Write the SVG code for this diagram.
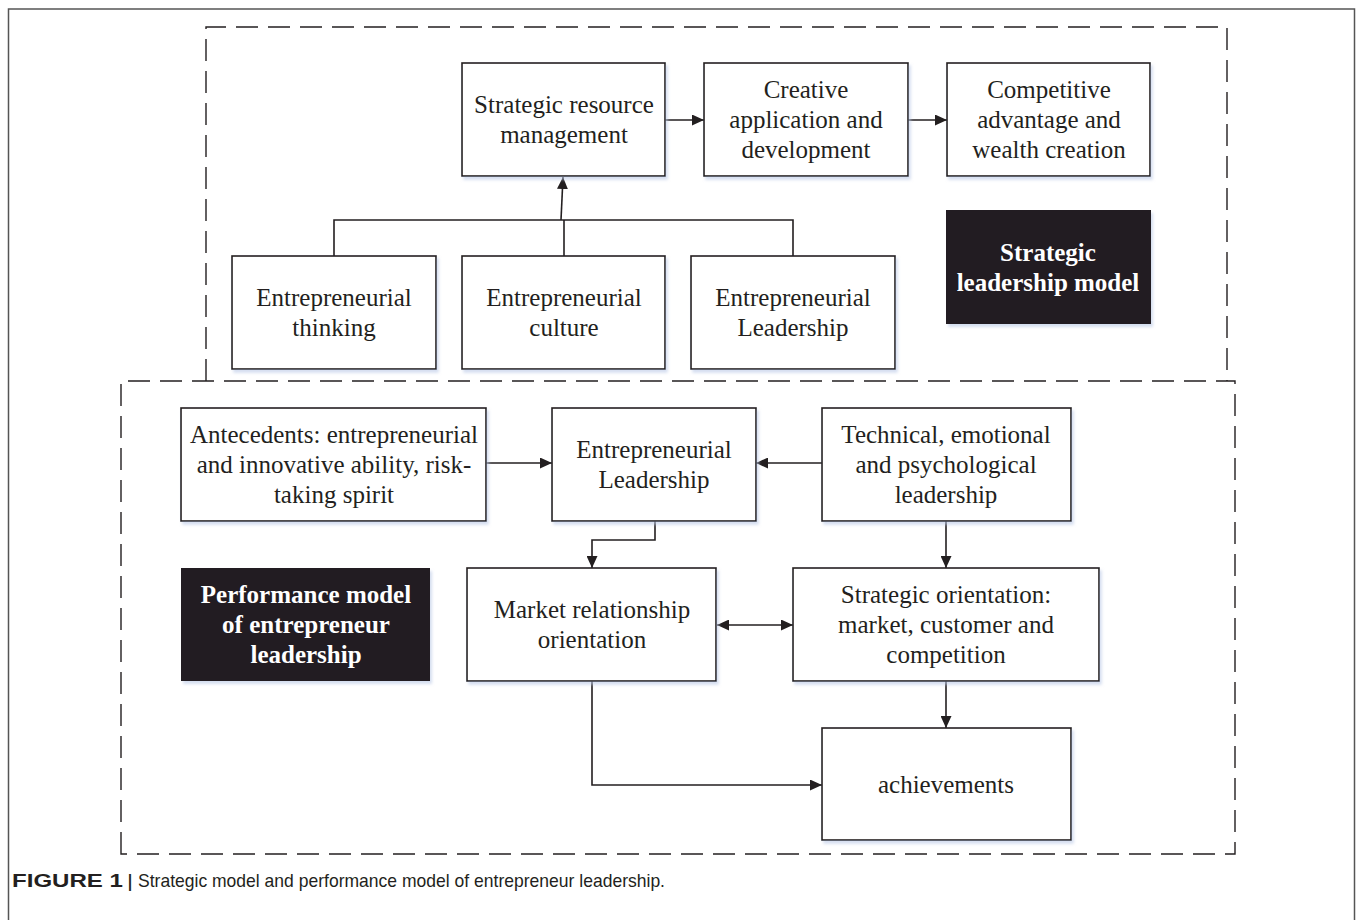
<svg xmlns="http://www.w3.org/2000/svg" width="1357" height="920" viewBox="0 0 1357 920">
<defs>
<style>
.box{fill:#fff;stroke:#231f20;stroke-width:1.6;filter:url(#sh)}
.blk{fill:#231f20;stroke:none;filter:url(#sh)}
.t{font-family:"Liberation Serif","Times New Roman",serif;font-size:25px;fill:#231f20;text-anchor:middle}
.tb{font-family:"Liberation Serif","Times New Roman",serif;font-size:25px;font-weight:bold;fill:#fff;text-anchor:middle}
.dash{fill:none;stroke:#231f20;stroke-width:1.4;stroke-dasharray:22 10}
.ln{fill:none;stroke:#231f20;stroke-width:1.6}
.cap{font-family:"Liberation Sans",Arial,sans-serif;font-size:19px;fill:#231f20}
</style>
<filter id="sh" x="-10%" y="-10%" width="125%" height="130%">
<feDropShadow dx="2" dy="3" stdDeviation="1.5" flood-color="#b9c8e6" flood-opacity="0.6"/>
</filter>
<marker id="ah" viewBox="0 0 12 11" refX="12" refY="5.5" markerWidth="12" markerHeight="11" markerUnits="userSpaceOnUse" orient="auto-start-reverse">
<path d="M0,0 L12,5.5 L0,11 Z" fill="#231f20"/>
</marker>
</defs>
<rect width="1357" height="920" fill="#fff"/>
<rect x="8.5" y="9" width="1346" height="930" fill="none" stroke="#555" stroke-width="1.5"/>

<g id="regions">
<path class="dash" d="M206,381 V27 H1227 V381"/>
<path class="dash" d="M121,854 V381 H1235 V854 Z"/>
</g>

<g id="connectors">
<path class="ln" d="M665,120 H704" marker-end="url(#ah)"/>
<path class="ln" d="M908,120 H947" marker-end="url(#ah)"/>
<path class="ln" d="M334,256 V220 H793 V256"/>
<path class="ln" d="M564,256 V220"/>
<path class="ln" d="M561,220 L563,177" marker-end="url(#ah)"/>
<path class="ln" d="M486,463 H552" marker-end="url(#ah)"/>
<path class="ln" d="M822,463 H756" marker-end="url(#ah)"/>
<path class="ln" d="M655,521 V540 H592 V568" marker-end="url(#ah)"/>
<path class="ln" d="M717,625 H793" marker-start="url(#ah)" marker-end="url(#ah)"/>
<path class="ln" d="M946,521 V568" marker-end="url(#ah)"/>
<path class="ln" d="M946,681 V728" marker-end="url(#ah)"/>
<path class="ln" d="M592,681 V785 H822" marker-end="url(#ah)"/>
</g>

<g id="n-srm"><rect class="box" x="462" y="63" width="203" height="113"/>
<text class="t" x="564" y="113">Strategic resource</text><text class="t" x="564" y="143">management</text></g>
<g id="n-cad"><rect class="box" x="704" y="63" width="204" height="113"/>
<text class="t" x="806" y="98">Creative</text><text class="t" x="806" y="128">application and</text><text class="t" x="806" y="158">development</text></g>
<g id="n-caw"><rect class="box" x="947" y="63" width="203" height="113"/>
<text class="t" x="1049" y="98">Competitive</text><text class="t" x="1049" y="128">advantage and</text><text class="t" x="1049" y="158">wealth creation</text></g>
<g id="n-et"><rect class="box" x="232" y="256" width="204" height="113"/>
<text class="t" x="334" y="306">Entrepreneurial</text><text class="t" x="334" y="336">thinking</text></g>
<g id="n-ec"><rect class="box" x="462" y="256" width="203" height="113"/>
<text class="t" x="564" y="306">Entrepreneurial</text><text class="t" x="564" y="336">culture</text></g>
<g id="n-el1"><rect class="box" x="691" y="256" width="204" height="113"/>
<text class="t" x="793" y="306">Entrepreneurial</text><text class="t" x="793" y="336">Leadership</text></g>
<g id="n-slm"><rect class="blk" x="946" y="210" width="205" height="114"/>
<text class="tb" x="1048" y="261">Strategic</text><text class="tb" x="1048" y="291">leadership model</text></g>

<g id="n-ant"><rect class="box" x="181" y="408" width="305" height="113"/>
<text class="t" x="334" y="443">Antecedents: entrepreneurial</text><text class="t" x="334" y="473">and innovative ability, risk-</text><text class="t" x="334" y="503">taking spirit</text></g>
<g id="n-el2"><rect class="box" x="552" y="408" width="204" height="113"/>
<text class="t" x="654" y="458">Entrepreneurial</text><text class="t" x="654" y="488">Leadership</text></g>
<g id="n-tep"><rect class="box" x="822" y="408" width="249" height="113"/>
<text class="t" x="946" y="443">Technical, emotional</text><text class="t" x="946" y="473">and psychological</text><text class="t" x="946" y="503">leadership</text></g>
<g id="n-pm"><rect class="blk" x="181" y="568" width="249" height="113"/>
<text class="tb" x="306" y="603">Performance model</text><text class="tb" x="306" y="633">of entrepreneur</text><text class="tb" x="306" y="663">leadership</text></g>
<g id="n-mro"><rect class="box" x="467" y="568" width="249" height="113"/>
<text class="t" x="592" y="618">Market relationship</text><text class="t" x="592" y="648">orientation</text></g>
<g id="n-so"><rect class="box" x="793" y="568" width="306" height="113"/>
<text class="t" x="946" y="603">Strategic orientation:</text><text class="t" x="946" y="633">market, customer and</text><text class="t" x="946" y="663">competition</text></g>
<g id="n-ach"><rect class="box" x="822" y="728" width="249" height="112"/>
<text class="t" x="946" y="793">achievements</text></g>

<g id="caption">
<text class="cap" x="12" y="887"><tspan font-weight="bold" textLength="111" lengthAdjust="spacingAndGlyphs">FIGURE 1</tspan><tspan dx="4" textLength="6" lengthAdjust="spacingAndGlyphs">|</tspan><tspan dx="5" textLength="527" lengthAdjust="spacingAndGlyphs">Strategic model and performance model of entrepreneur leadership.</tspan></text>
</g>
</svg>
